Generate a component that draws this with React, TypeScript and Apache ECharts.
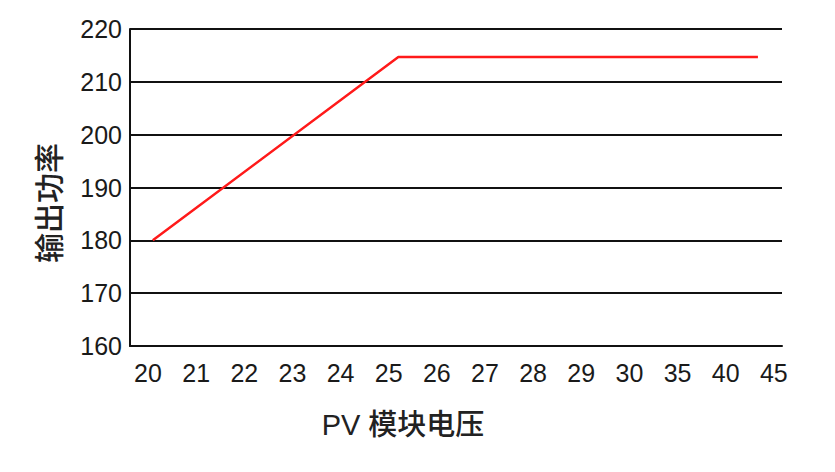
import React, { useEffect, useRef } from "react";
import * as echarts from "echarts";

// X-axis tick labels (PV module voltage), evenly spaced categories
const voltageLabels = ["20", "21", "22", "23", "24", "25", "26", "27", "28", "29", "30", "35", "40", "45"];
// Line points: positions in category-index units along the voltage axis
const curveX = [0.1, 5.2, 12.67];
// Output power at those points
const curvePower = [180, 214.7, 214.7];
// Y-axis range
const yMin = 160;
const yMax = 220;
const yStep = 10;

const FONT = "'Liberation Sans', 'Noto Sans CJK SC', Arial, sans-serif";

export default function App() {
  const ref = useRef<HTMLDivElement>(null);
  useEffect(() => {
    if (!ref.current) return;
    const chart = echarts.init(ref.current, undefined, { renderer: "svg" });
    const labelIdx = voltageLabels.map((_, i) => i);
    chart.setOption({
      animation: false,
      backgroundColor: "#ffffff",
      grid: { left: 130, top: 29, right: 53, bottom: 126, containLabel: false },
      xAxis: {
        type: "value",
        min: -0.374,
        max: 13.17,
        name: "PV 模块电压",
        nameLocation: "middle",
        nameGap: 64,
        nameTextStyle: {
          fontSize: 29,
          fontWeight: 500,
          color: "#222",
          fontFamily: FONT,
          padding: [0, 106, 0, 0],
        },
        axisLine: { show: true, onZero: false, lineStyle: { color: "#111", width: 2 } },
        axisTick: { show: false },
        splitLine: { show: false },
        axisLabel: {
          customValues: labelIdx,
          formatter: (v: number) => voltageLabels[Math.round(v)] ?? "",
          fontSize: 25,
          color: "#1a1a1a",
          fontFamily: FONT,
          margin: 14,
          showMinLabel: true,
          showMaxLabel: true,
        },
      },
      yAxis: {
        type: "value",
        min: yMin,
        max: yMax,
        interval: yStep,
        name: "输出功率",
        nameLocation: "middle",
        nameGap: 66,
        nameRotate: 90,
        nameTextStyle: {
          fontSize: 30,
          fontWeight: 500,
          color: "#222",
          fontFamily: FONT,
          padding: [0, 31, 0, 0],
        },
        axisLine: { show: true, onZero: false, lineStyle: { color: "#111", width: 2 } },
        axisTick: { show: false },
        splitLine: { show: true, lineStyle: { color: "#111", width: 2 } },
        axisLabel: {
          fontSize: 25,
          color: "#1a1a1a",
          fontFamily: FONT,
          margin: 8,
          padding: [0, 0, 6, 0],
        },
      },
      series: [
        {
          type: "line",
          data: curveX.map((x, i) => [x, curvePower[i]]),
          showSymbol: false,
          symbol: "none",
          lineStyle: { color: "#ff1a1a", width: 2.5 },
          z: 5,
        },
      ],
    });
    return () => chart.dispose();
  }, []);
  return <div ref={ref} style={{ width: 835, height: 472, position: "absolute", left: 0, top: 0 }} />;
}
